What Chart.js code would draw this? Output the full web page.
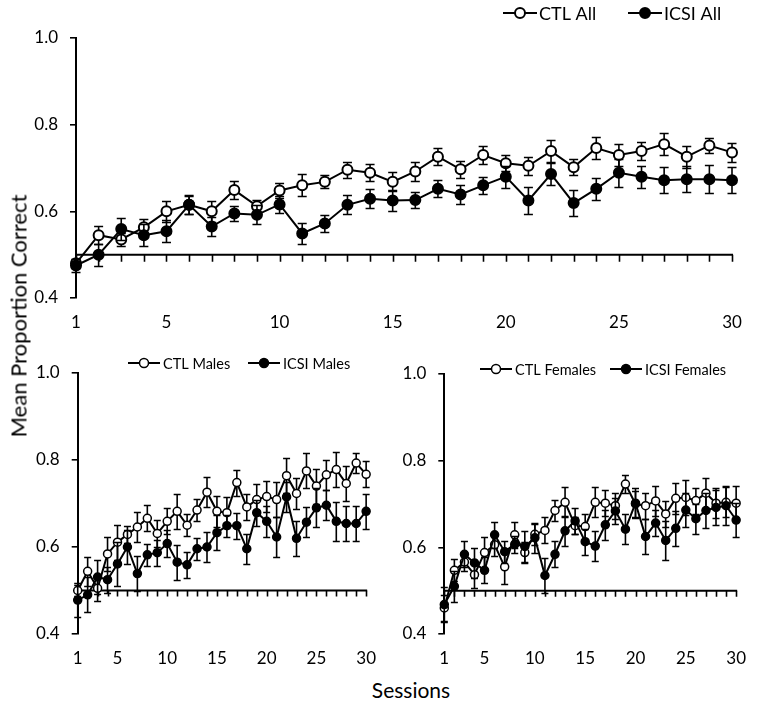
<!DOCTYPE html>
<html><head><meta charset="utf-8">
<script src="https://cdn.jsdelivr.net/npm/chart.js@4.4.0/dist/chart.umd.min.js"></script>
<style>
html,body{margin:0;padding:0;background:#fff;}
#wrap{position:relative;width:760px;height:701px;overflow:hidden;background:#fff;}
canvas{position:absolute;}
.ttl{position:absolute;color:#000;font-family:Lato,sans-serif;white-space:nowrap;transform-origin:center center;}
</style></head><body>
<div id="wrap">
<canvas id="cAll" width="760" height="340" style="left:0;top:0;width:760px;height:340px"></canvas>
<canvas id="cMales" width="390" height="330" style="left:0;top:340px;width:390px;height:330px"></canvas>
<canvas id="cFemales" width="370" height="330" style="left:390px;top:340px;width:370px;height:330px"></canvas>
<div class="ttl" id="yTitle" style="left:18px;top:316px;font-size:22px;transform:translate(-50%,-50%) rotate(-90deg);">Mean Proportion Correct</div>
<div class="ttl" id="xTitle" style="left:411px;top:689px;font-size:21px;transform:translate(-50%,-50%);">Sessions</div>
</div>
<script>
// ---------- data ----------
const sessions = [1,2,3,4,5,6,7,8,9,10,11,12,13,14,15,16,17,18,19,20,21,22,23,24,25,26,27,28,29,30];
const xTickLabels = [1,5,10,15,20,25,30];
const yTickValues = [0.4,0.6,0.8,1.0];

const ctlAll     = [0.480,0.545,0.535,0.563,0.600,0.615,0.600,0.649,0.612,0.648,0.660,0.668,0.696,0.689,0.668,0.692,0.726,0.697,0.730,0.711,0.705,0.739,0.702,0.746,0.730,0.739,0.755,0.726,0.752,0.736];
const ctlAllErr  = [0.010,0.020,0.015,0.020,0.025,0.020,0.025,0.020,0.015,0.018,0.025,0.015,0.018,0.020,0.022,0.022,0.020,0.020,0.020,0.018,0.020,0.025,0.018,0.025,0.025,0.020,0.025,0.025,0.018,0.022];
const icsiAll    = [0.475,0.500,0.559,0.545,0.554,0.615,0.565,0.595,0.592,0.616,0.549,0.572,0.615,0.629,0.625,0.626,0.652,0.639,0.660,0.680,0.625,0.686,0.619,0.652,0.689,0.680,0.672,0.674,0.674,0.672];
const icsiAllErr = [0.015,0.025,0.025,0.025,0.025,0.022,0.022,0.018,0.022,0.020,0.025,0.020,0.022,0.022,0.025,0.018,0.020,0.022,0.020,0.025,0.032,0.025,0.030,0.025,0.032,0.025,0.030,0.030,0.032,0.030];

const ctlMales     = [0.500,0.544,0.505,0.584,0.611,0.629,0.646,0.666,0.631,0.659,0.682,0.650,0.685,0.726,0.682,0.679,0.748,0.692,0.709,0.716,0.709,0.764,0.723,0.775,0.740,0.766,0.778,0.746,0.793,0.767];
const ctlMalesErr  = [0.012,0.033,0.030,0.040,0.040,0.020,0.035,0.030,0.030,0.030,0.040,0.025,0.025,0.035,0.035,0.035,0.030,0.030,0.035,0.035,0.040,0.040,0.035,0.040,0.040,0.035,0.040,0.040,0.022,0.030];
const icsiMales    = [0.478,0.490,0.531,0.525,0.561,0.600,0.539,0.582,0.587,0.608,0.565,0.559,0.596,0.600,0.633,0.649,0.649,0.596,0.679,0.659,0.623,0.715,0.620,0.657,0.690,0.696,0.659,0.654,0.654,0.682];
const icsiMalesErr = [0.040,0.040,0.040,0.030,0.050,0.040,0.040,0.025,0.030,0.030,0.040,0.030,0.025,0.035,0.040,0.025,0.030,0.035,0.030,0.035,0.045,0.035,0.040,0.035,0.045,0.035,0.045,0.040,0.040,0.040];

const ctlFemales     = [0.460,0.547,0.566,0.537,0.588,0.606,0.555,0.629,0.588,0.630,0.639,0.685,0.704,0.650,0.648,0.704,0.702,0.696,0.746,0.700,0.696,0.707,0.677,0.713,0.715,0.708,0.725,0.702,0.704,0.702];
const ctlFemalesErr  = [0.030,0.025,0.020,0.030,0.035,0.025,0.040,0.030,0.025,0.025,0.030,0.025,0.035,0.020,0.030,0.035,0.030,0.030,0.020,0.030,0.030,0.035,0.030,0.035,0.040,0.030,0.035,0.035,0.035,0.040];
const icsiFemales    = [0.468,0.510,0.584,0.564,0.547,0.629,0.590,0.607,0.602,0.622,0.535,0.584,0.638,0.661,0.613,0.603,0.652,0.684,0.642,0.702,0.625,0.656,0.616,0.644,0.686,0.666,0.685,0.692,0.696,0.663];
const icsiFemalesErr = [0.040,0.035,0.030,0.035,0.030,0.030,0.025,0.020,0.035,0.035,0.040,0.030,0.035,0.030,0.030,0.035,0.035,0.030,0.035,0.035,0.040,0.030,0.045,0.040,0.040,0.035,0.040,0.040,0.045,0.040];

// ---------- plugins ----------
const errBars = {
  id: 'errBars',
  beforeDatasetDraw(chart, args, opts) {
    const ds = chart.data.datasets[args.index];
    if (!ds.errors) return;
    const ctx = chart.ctx, y = chart.scales.y;
    ctx.save();
    ctx.strokeStyle = '#000';
    ctx.lineWidth = opts.lineWidth || 1.5;
    const cw = opts.capHalf || 4;
    args.meta.data.forEach((pt, i) => {
      const v = ds.data[i].y, e = ds.errors[i];
      const yt = Math.round(y.getPixelForValue(v + e)) + 0.5;
      const yb = Math.round(y.getPixelForValue(v - e)) + 0.5;
      ctx.beginPath();
      ctx.moveTo(pt.x, yt); ctx.lineTo(pt.x, yb);
      ctx.moveTo(pt.x - cw, yt); ctx.lineTo(pt.x + cw, yt);
      ctx.moveTo(pt.x - cw, yb); ctx.lineTo(pt.x + cw, yb);
      ctx.stroke();
    });
    ctx.restore();
  }
};

const sessAxis = {
  id: 'sessAxis',
  beforeDatasetsDraw(chart, args, opts) {
    const ctx = chart.ctx, x = chart.scales.x, y = chart.scales.y;
    const yy = y.getPixelForValue(opts.at);
    ctx.save();
    ctx.strokeStyle = '#000';
    ctx.lineWidth = opts.lineWidth || 2;
    ctx.beginPath();
    ctx.moveTo(chart.chartArea.left, yy);
    ctx.lineTo(x.getPixelForValue(sessions[sessions.length - 1]) + 1, yy);
    ctx.stroke();
    ctx.lineWidth = opts.tickWidth || 1.5;
    ctx.beginPath();
    sessions.forEach(s => {
      const px = Math.round(x.getPixelForValue(s)) + 0.5;
      ctx.moveTo(px, yy);
      ctx.lineTo(px, yy + opts.tickLen);
    });
    ctx.stroke();
    ctx.restore();
  }
};

const lineLegend = {
  id: 'lineLegend',
  afterDraw(chart, args, opts) {
    const ctx = chart.ctx;
    ctx.save();
    chart.data.datasets.forEach((ds, i) => {
      const it = opts.items[i];
      if (!it) return;
      ctx.strokeStyle = '#000';
      ctx.lineWidth = opts.lineWidth;
      ctx.beginPath();
      ctx.moveTo(it.x, it.y); ctx.lineTo(it.x + opts.lineLen, it.y);
      ctx.stroke();
      ctx.beginPath();
      ctx.arc(it.x + opts.lineLen / 2, it.y, opts.radius, 0, Math.PI * 2);
      ctx.fillStyle = ds.pointBackgroundColor;
      ctx.fill();
      ctx.lineWidth = opts.borderWidth;
      ctx.stroke();
      ctx.fillStyle = '#000';
      ctx.font = opts.font;
      ctx.textBaseline = 'middle';
      ctx.textAlign = 'left';
      ctx.fillText(ds.label, it.x + opts.lineLen + opts.gap, it.y + 1);
    });
    ctx.restore();
  }
};

// ---------- builder ----------
function pts(arr) { return sessions.map((s, i) => ({ x: s, y: arr[i] })); }

function makePanel(id, series, L) {
  const datasets = series.map(s => ({
    label: s.label,
    data: pts(s.values),
    errors: s.errors,
    borderColor: '#000',
    borderWidth: L.lineWidth,
    pointRadius: L.radius,
    pointHoverRadius: L.radius,
    pointBorderWidth: L.pointBorder,
    pointBorderColor: '#000',
    pointBackgroundColor: s.filled ? '#000' : '#fff',
    backgroundColor: s.filled ? '#000' : '#fff',
    fill: false,
    tension: 0,
    clip: false,
    order: s.filled ? 1 : 2
  }));
  return new Chart(document.getElementById(id), {
    type: 'line',
    data: { datasets },
    options: {
      responsive: false,
      animation: false,
      events: [],
      layout: { padding: { left: 0, top: L.top, right: L.right, bottom: 0 } },
      plugins: {
        legend: { display: false },
        tooltip: { enabled: false },
        errBars: { lineWidth: 1.6, capHalf: L.cap },
        sessAxis: { at: 0.5, tickLen: L.xTickLen, lineWidth: 2, tickWidth: 1.6 },
        lineLegend: L.legend
      },
      scales: {
        x: {
          type: 'linear', min: 1, max: 30,
          afterFit: s => { s.height = L.xH; },
          afterBuildTicks: s => { s.ticks = xTickLabels.map(v => ({ value: v })); },
          grid: { display: false, drawTicks: false },
          border: { display: false },
          ticks: { color: '#000', font: { family: 'Lato', size: 17 }, padding: L.xPad, maxRotation: 0, autoSkip: false,
                   callback: v => String(v) }
        },
        y: {
          type: 'linear', min: 0.4, max: 1.0,
          afterFit: s => { s.width = L.yW; },
          afterBuildTicks: s => { s.ticks = yTickValues.map(v => ({ value: v })); },
          grid: { display: true, drawOnChartArea: false, drawTicks: true, tickLength: 6, color: '#000', lineWidth: 1.6 },
          border: { display: true, color: '#000', width: 2 },
          ticks: { color: '#000', font: { family: 'Lato', size: 17 }, padding: 12, callback: v => Number(v).toFixed(1) }
        }
      }
    },
    plugins: [errBars, sessAxis, lineLegend]
  });
}

makePanel('cAll', [
  { label: 'CTL All', values: ctlAll, errors: ctlAllErr, filled: false },
  { label: 'ICSI All', values: icsiAll, errors: icsiAllErr, filled: true }
], { top: 38, right: 28, xH: 42, yW: 76, xPad: 14, lineWidth: 2, radius: 5, pointBorder: 2, cap: 4.5, xTickLen: 7,
     legend: { items: [{ x: 503, y: 13 }, { x: 628, y: 13 }], lineLen: 34, radius: 5, borderWidth: 2, lineWidth: 2, gap: 2, font: '18px Lato' } });

makePanel('cMales', [
  { label: 'CTL Males', values: ctlMales, errors: ctlMalesErr, filled: false },
  { label: 'ICSI Males', values: icsiMales, errors: icsiMalesErr, filled: true }
], { top: 33, right: 12, xH: 36, yW: 77.7, xPad: 14, lineWidth: 2, radius: 4, pointBorder: 1.5, cap: 3.5, xTickLen: 6,
     legend: { items: [{ x: 128, y: 23 }, { x: 248, y: 23 }], lineLen: 32, radius: 4.5, borderWidth: 1.5, lineWidth: 2, gap: 3, font: '14.5px Lato' } });

makePanel('cFemales', [
  { label: 'CTL Females', values: ctlFemales, errors: ctlFemalesErr, filled: false },
  { label: 'ICSI Females', values: icsiFemales, errors: icsiFemalesErr, filled: true }
], { top: 34, right: 13, xH: 36, yW: 54.3, xPad: 14, lineWidth: 2, radius: 4, pointBorder: 1.5, cap: 3.5, xTickLen: 6,
     legend: { items: [{ x: 90, y: 29 }, { x: 220, y: 29 }], lineLen: 32, radius: 4.5, borderWidth: 1.5, lineWidth: 2, gap: 3, font: '14.5px Lato' } });
</script>
</body></html>
